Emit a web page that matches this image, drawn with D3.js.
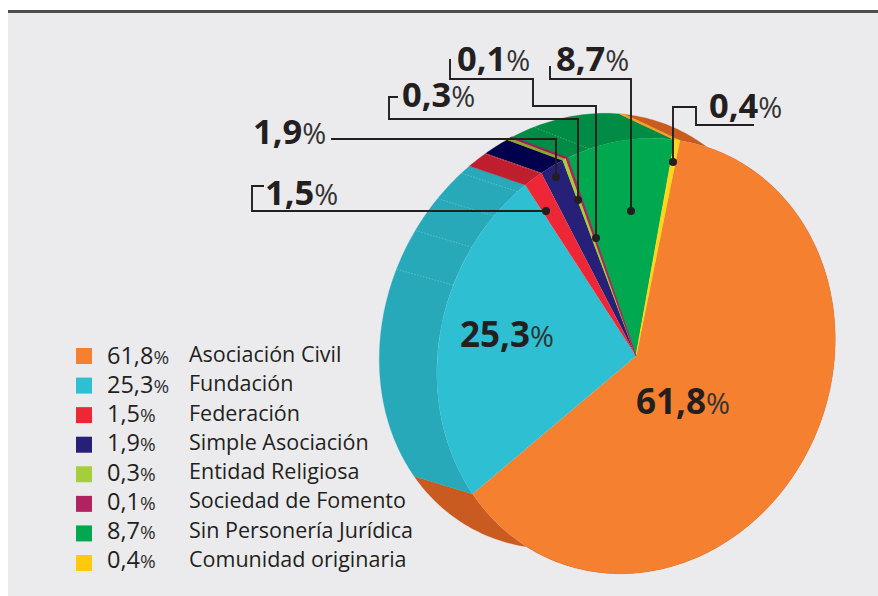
<!DOCTYPE html>
<html>
<head>
<meta charset="utf-8">
<script src="https://cdn.jsdelivr.net/npm/d3@7"></script>
<style>
  html, body { margin: 0; padding: 0; background: #fff; }
  svg { display: block; }
  text { font-family: "Open Sans", sans-serif; fill: #231f20; }
</style>
</head>
<body>
<svg id="chart" width="878" height="596"></svg>
<script>
var categories = ["Asociación Civil", "Fundación", "Federación", "Simple Asociación", "Entidad Religiosa", "Sociedad de Fomento", "Sin Personería Jurídica", "Comunidad originaria"];
var values = [61.8, 25.3, 1.5, 1.9, 0.3, 0.1, 8.7, 0.4];
var topColors = ["#f58130", "#2ebfd3", "#ee2737", "#262078", "#a6ce39", "#b0235f", "#00a94f", "#ffd51d"];
var sideColors = ["#c95a20", "#27a9ba", "#be1e2d", "#00004d", "#8fa52c", "#a6195f", "#008c44", "#f0a020"];
var legendColors = ["#f58130", "#2ebfd3", "#ee2737", "#262078", "#a6ce39", "#b0235f", "#00a94f", "#ffc90e"];
// pliegues claros del lateral, en grados sobre el circulo
var seamDegrees = [289, 300, 310, 319, 327, 342];

// llamadas: categoria, posicion del texto y recorrido de la linea
var callouts = [
  { i: 2, x: 265, y: 205, path: [[264, 186], [252, 186], [252, 211], [546, 211]] },
  { i: 3, x: 253, y: 144, path: [[331, 139], [556, 139], [556, 177]] },
  { i: 4, x: 402, y: 107, path: [[398, 97], [389, 97], [389, 119], [578, 119], [578, 200]] },
  { i: 5, x: 457, y: 71, path: [[450, 59], [450, 79], [533, 79], [533, 106], [596, 106], [596, 238]] },
  { i: 6, x: 556, y: 71, path: [[550, 66], [550, 79], [631, 79], [631, 211]] },
  { i: 7, x: 709, y: 118, path: [[754, 125], [696, 125], [696, 107], [673, 107], [673, 162]] }
];

var svg = d3.select("#chart");
var radius = 200;
var cx = 636, cy = 356;
var skew = { a: 0.993, b: 0, c: -0.0775, d: 1.0885 };
// el borde trasero esta algo mas inclinado que la cara
var back = { x: 579, y: 331, a: 0.99, c: -0.13, d: 1.0885, offset: -2.5 * Math.PI / 180 };
var startDeg = 8.2;

var comma = function (v) { return d3.format(".1f")(v).replace(".", ","); };
// las porciones muy finas se engrosan un poco para que se vean
var thinStroke = function (v) { return v < 0.2 ? 1.3 : v < 0.5 ? 0.9 : 0; };

// panel de fondo
svg.append("rect").attr("x", 8).attr("y", 12).attr("width", 870).attr("height", 584).attr("fill", "#ebebed");
svg.append("rect").attr("x", 8).attr("y", 10).attr("width", 870).attr("height", 3).attr("fill", "#4d4d4d");

var pie = d3.pie().sort(null).value(function (d) { return d; })
  .startAngle(startDeg * Math.PI / 180)
  .endAngle((startDeg + 360) * Math.PI / 180);
var slices = pie(values);
slices.forEach(function (s, i) { s.index = i; });
// las finas se pintan al final para que la vecina no las tape
var paintOrder = slices.slice().sort(function (p, q) { return d3.descending(p.value, q.value); });

function rimPoint(angle) {
  var ux = Math.sin(angle) * radius, uy = -Math.cos(angle) * radius;
  return [cx + skew.a * ux + skew.c * uy, cy + skew.b * ux + skew.d * uy];
}

function backPoint(angle) {
  var ux = Math.sin(angle + back.offset) * radius, uy = -Math.cos(angle + back.offset) * radius;
  return [back.x + back.a * ux + back.c * uy, back.y + back.d * uy];
}

// lateral: banda entre el borde de la cara y el borde trasero
var line = d3.line();
var sides = svg.append("g");
paintOrder.forEach(function (s) {
  var steps = d3.range(0, 1.0001, 1 / Math.max(2, Math.ceil((s.endAngle - s.startAngle) * 60)));
  var angle = d3.scaleLinear().domain([0, 1]).range([s.startAngle, s.endAngle]);
  var front = steps.map(function (t) { return rimPoint(angle(t)); });
  var rear = steps.map(function (t) { return backPoint(angle(t)); }).reverse();
  sides.append("path")
    .attr("d", line(front.concat(rear)) + "Z")
    .attr("fill", sideColors[s.index])
    .attr("stroke", sideColors[s.index])
    .attr("stroke-width", Math.max(0.3, thinStroke(s.value)));
});

seamDegrees.forEach(function (deg) {
  var a = deg * Math.PI / 180;
  sides.append("path")
    .attr("d", line([rimPoint(a), backPoint(a)]))
    .attr("stroke", "#fff")
    .attr("stroke-opacity", 0.35)
    .attr("stroke-width", 0.7)
    .attr("stroke-dasharray", "1.5,1.5")
    .attr("fill", "none");
});

// cara superior
var arc = d3.arc().innerRadius(0).outerRadius(radius);
var face = svg.append("g")
  .attr("transform", "matrix(" + [skew.a, skew.b, skew.c, skew.d, cx, cy].join(",") + ")");
face.selectAll("path")
  .data(paintOrder)
  .enter()
  .append("path")
  .attr("d", arc)
  .attr("fill", function (d) { return topColors[d.index]; })
  .attr("stroke", function (d) { return topColors[d.index]; })
  .attr("stroke-width", function (d) { return thinStroke(d.value); });

function pctText(sel, x, y, label, numSize, pctSize, bold) {
  var t = sel.append("text").attr("x", x).attr("y", y);
  t.append("tspan")
    .attr("font-size", numSize)
    .attr("font-weight", bold ? 700 : 400)
    .text(label);
  t.append("tspan")
    .attr("font-size", pctSize)
    .attr("fill", "#333")
    .text("%");
  return t;
}

// etiquetas interiores
pctText(svg, 460, 347, comma(values[1]), 35, 29, true);
pctText(svg, 636, 414, comma(values[0]), 35, 29, true);

// lineas de llamada
var leaders = svg.append("g");
callouts.forEach(function (c) {
  leaders.append("path")
    .attr("d", line(c.path))
    .attr("fill", "none")
    .attr("stroke", "#231f20")
    .attr("stroke-width", 1.9);
  var end = c.path[c.path.length - 1];
  leaders.append("circle")
    .attr("cx", end[0]).attr("cy", end[1]).attr("r", 4)
    .attr("fill", "#231f20");
  pctText(svg, c.x, c.y, comma(values[c.i]), 34.5, 29, true);
});

// leyenda
var rowY = d3.scalePoint().domain(d3.range(categories.length)).range([356, 563]);
var numY = d3.scalePoint().domain(d3.range(categories.length)).range([364, 568]);
var nameY = d3.scalePoint().domain(d3.range(categories.length)).range([362, 567]);
var legend = svg.append("g");
categories.forEach(function (name, i) {
  legend.append("rect")
    .attr("x", 76).attr("y", rowY(i) - 8).attr("width", 16).attr("height", 16)
    .attr("fill", legendColors[i]);
  pctText(legend, 107, numY(i), comma(values[i]), 23.5, 19, false);
  legend.append("text")
    .attr("x", 189).attr("y", nameY(i))
    .attr("font-size", 21.5)
    .text(name);
});
</script>
</body>
</html>
